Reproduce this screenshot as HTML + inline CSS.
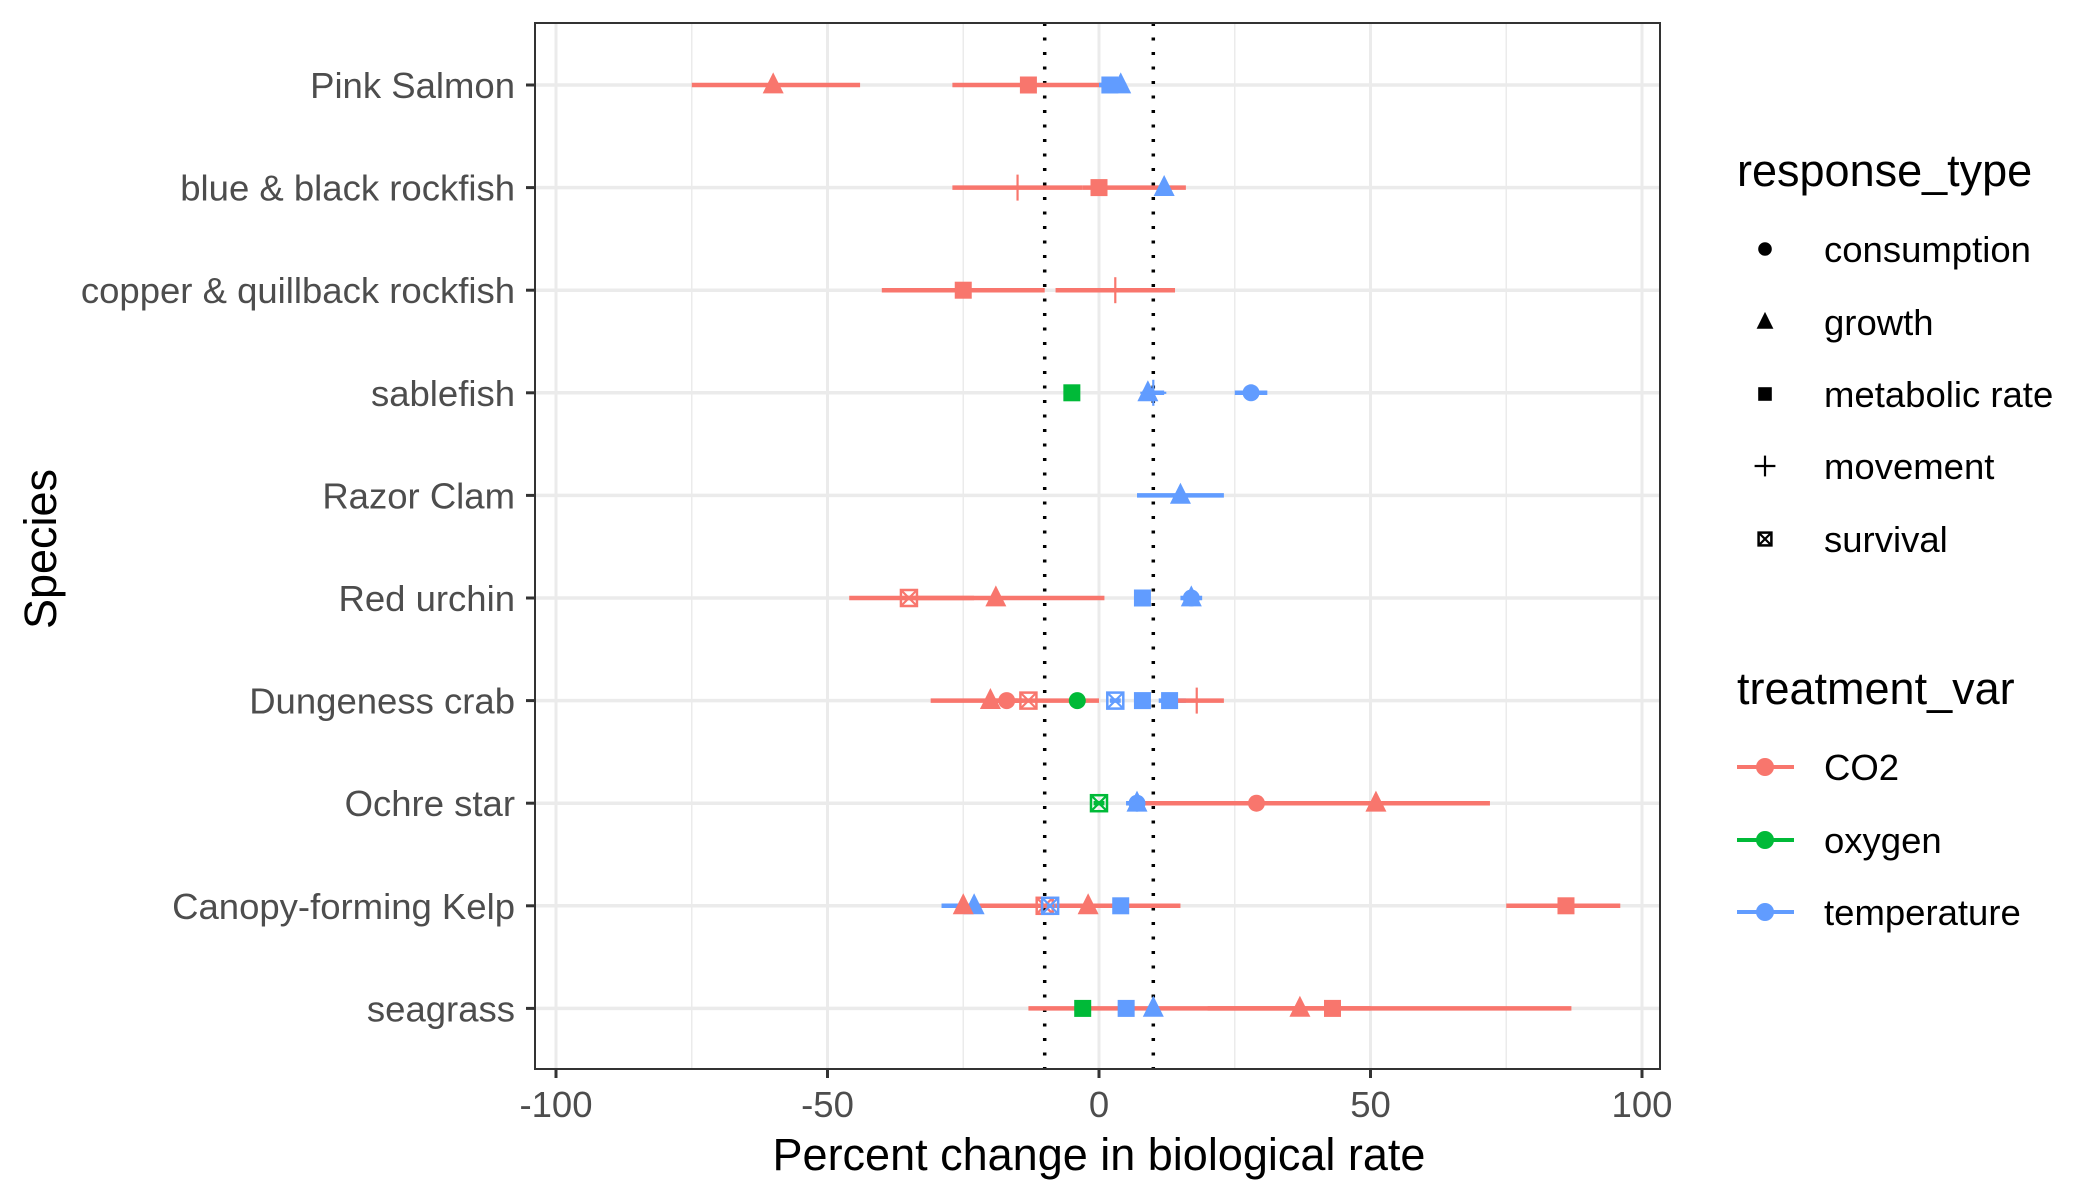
<!DOCTYPE html>
<html><head><meta charset="utf-8">
<style>
html,body{margin:0;padding:0;background:#fff;}
svg{display:block;font-family:"Liberation Sans",Arial,sans-serif;}
</style></head>
<body>
<svg id="chart" width="2100" height="1200" viewBox="0 0 2100 1200"></svg>
<script>
const species = ["Pink Salmon","blue & black rockfish","copper & quillback rockfish","sablefish","Razor Clam","Red urchin","Dungeness crab","Ochre star","Canopy-forming Kelp","seagrass"];
const treatments = ["CO2","oxygen","temperature"];
const responses = ["consumption","growth","metabolic rate","movement","survival"];
const xTicks = [-100,-50,0,50,100];
const xMinor = [-75,-25,25,75];
const refLines = [-10,10];
// each point: species index, treatment, response, value, low, high
const ptSpecies = [0,0,0,0, 1,1,1, 2,2, 3,3,3,3, 4, 5,5,5,5,5, 6,6,6,6,6,6,6,6, 7,7,7,7,7, 8,8,8,8,8,8,8, 9,9,9,9,9];
const ptTreat = ["CO2","CO2","temperature","temperature", "CO2","CO2","temperature", "CO2","CO2", "oxygen","temperature","temperature","temperature", "temperature", "CO2","CO2","temperature","temperature","temperature", "CO2","CO2","CO2","oxygen","temperature","temperature","temperature","CO2", "oxygen","temperature","temperature","CO2","CO2", "temperature","CO2","CO2","temperature","CO2","temperature","CO2", "oxygen","temperature","temperature","CO2","CO2"];
const ptResp = ["growth","metabolic rate","metabolic rate","growth", "movement","metabolic rate","growth", "metabolic rate","movement", "metabolic rate","growth","movement","consumption", "growth", "survival","growth","metabolic rate","growth","consumption", "growth","consumption","survival","consumption","survival","metabolic rate","metabolic rate","movement", "survival","growth","consumption","consumption","growth", "growth","growth","survival","survival","growth","metabolic rate","metabolic rate", "metabolic rate","metabolic rate","growth","growth","metabolic rate"];
const ptValue = [-60,-13,2,4, -15,0,12, -25,3, -5,9,10,28, 15, -35,-19,8,17,17, -20,-17,-13,-4,3,8,13,18, 0,7,7,29,51, -23,-25,-10,-9,-2,4,86, -3,5,10,37,43];
const ptLow =   [-75,-27,0,3, -27,-3,11, -40,-8, -6,8,8,25, 7, -46,-36,7,15,16, -31,-20,-16,-5,2,7,11,13, -1,5,5,8,29, -29,-25,-11,-10,-5,3,75, -4,4,9,-13,20];
const ptHigh =  [-44,1,3,5, -3,16,13, -10,14, -4,10,12,31, 23, -23,1,9,19,18, -15,-14,0,-3,4,9,16,23, 1,9,9,52,72, -20,15,-9,-8,1,5,96, -2,6,11,50,87];

const colors = {"CO2":"#F8766D","oxygen":"#00BA38","temperature":"#619CFF"};
const P = {l:535, r:1660, t:23, b:1069};
const xs = v => 1099 + (v)*5.43;
const ys = i => 85 + i*102.6;
const svg = document.getElementById('chart');
const NS = "http://www.w3.org/2000/svg";
function mk(tag, at, parent){const e=document.createElementNS(NS,tag);for(const k in at)e.setAttribute(k,at[k]);(parent||svg).appendChild(e);return e;}

const grid = mk('g',{});


xMinor.forEach(v=>{mk('line',{x1:xs(v),x2:xs(v),y1:P.t,y2:P.b,stroke:'#EBEBEB','stroke-width':1.5},grid);});
xTicks.forEach(v=>{mk('line',{x1:xs(v),x2:xs(v),y1:P.t,y2:P.b,stroke:'#EBEBEB','stroke-width':3},grid);});
species.forEach((s,i)=>{mk('line',{x1:P.l,x2:P.r,y1:ys(i),y2:ys(i),stroke:'#EBEBEB','stroke-width':3.5},grid);});

refLines.forEach(v=>{const l=mk('line',{x1:xs(v),x2:xs(v),y1:P.t,y2:P.b,stroke:'#000','stroke-width':3.5,'stroke-dasharray':'3,11.5'});

});

function drawShape(resp, cx, cy, col, parent, sc){
  sc=sc||1;
  if(resp==='consumption') mk('circle',{cx:cx,cy:cy,r:8.5*sc,fill:col},parent);
  else if(resp==='growth'){const h=10.5*sc;mk('polygon',{points:`${cx},${cy-h*1.2} ${cx-h},${cy+h*0.8} ${cx+h},${cy+h*0.8}`,fill:col},parent);}
  else if(resp==='metabolic rate') mk('rect',{x:cx-8.5*sc,y:cy-8.5*sc,width:17*sc,height:17*sc,fill:col},parent);
  else if(resp==='movement'){mk('line',{x1:cx-13*sc,x2:cx+13*sc,y1:cy,y2:cy,stroke:col,'stroke-width':2.2},parent);mk('line',{x1:cx,x2:cx,y1:cy-13*sc,y2:cy+13*sc,stroke:col,'stroke-width':2.2},parent);}
  else if(resp==='survival'){const s=8*sc;mk('rect',{x:cx-s,y:cy-s,width:2*s,height:2*s,fill:'none',stroke:col,'stroke-width':2.5},parent);
    mk('path',{d:`M${cx-s},${cy-s}L${cx+s},${cy+s}M${cx+s},${cy-s}L${cx-s},${cy+s}`,stroke:col,'stroke-width':2.2,fill:'none'},parent);}
}

const marks = mk('g',{});


ptValue.forEach((v,k)=>{
  const y=ys(ptSpecies[k]);
  const b=mk('line',{x1:xs(ptLow[k]),x2:xs(ptHigh[k]),y1:y,y2:y,stroke:colors[ptTreat[k]],'stroke-width':4.5},marks);
  
  
});
ptValue.forEach((v,k)=>{
  const g=mk('g',{},marks);
  
  
  drawShape(ptResp[k], xs(v), ys(ptSpecies[k]), colors[ptTreat[k]], g);
});

const border=mk('rect',{x:P.l,y:P.t,width:P.r-P.l,height:P.b-P.t,fill:'none',stroke:'#333','stroke-width':2});



species.forEach((s,i)=>{
  mk('line',{x1:P.l-9,x2:P.l,y1:ys(i),y2:ys(i),stroke:'#333','stroke-width':3});
  const t=mk('text',{x:P.l-20,y:ys(i)+13,'text-anchor':'end','font-size':36.5,fill:'#4D4D4D'});
  t.textContent=s;
  
  
});
xTicks.forEach(v=>{
  mk('line',{x1:xs(v),x2:xs(v),y1:P.b,y2:P.b+9,stroke:'#333','stroke-width':3});
  const t=mk('text',{x:xs(v),y:P.b+48,'text-anchor':'middle','font-size':36.5,fill:'#4D4D4D'});
  t.textContent=v;
  
  
});
const xt=mk('text',{x:1099,y:1170,'text-anchor':'middle','font-size':45,fill:'#000'});
xt.textContent='Percent change in biological rate';


const yt=mk('text',{x:0,y:0,'text-anchor':'middle','font-size':45,fill:'#000',transform:'translate(56,549) rotate(-90)'});
yt.textContent='Species';



const leg1=mk('g',{});


const lt1=mk('text',{x:1737,y:186,'font-size':45,fill:'#000'},leg1);lt1.textContent='response_type';
const respY=[249,322,394,466,539];
responses.forEach((r,i)=>{
  const g=mk('g',{},leg1);
  
  
  drawShape(r,1765,respY[i],'#000',g,0.8);
  const t=mk('text',{x:1824,y:respY[i]+13,'font-size':36.5,fill:'#000'},g);t.textContent=r;
});
const leg2=mk('g',{});


const lt2=mk('text',{x:1737,y:704,'font-size':45,fill:'#000'},leg2);lt2.textContent='treatment_var';
const trY=[767,840,912];
treatments.forEach((tr,i)=>{
  const g=mk('g',{},leg2);
  
  
  mk('line',{x1:1737,x2:1794,y1:trY[i],y2:trY[i],stroke:colors[tr],'stroke-width':4},g);
  mk('circle',{cx:1765,cy:trY[i],r:9,fill:colors[tr]},g);
  const t=mk('text',{x:1824,y:trY[i]+13,'font-size':36.5,fill:'#000'},g);t.textContent=tr;
});
</script>
</body></html>
